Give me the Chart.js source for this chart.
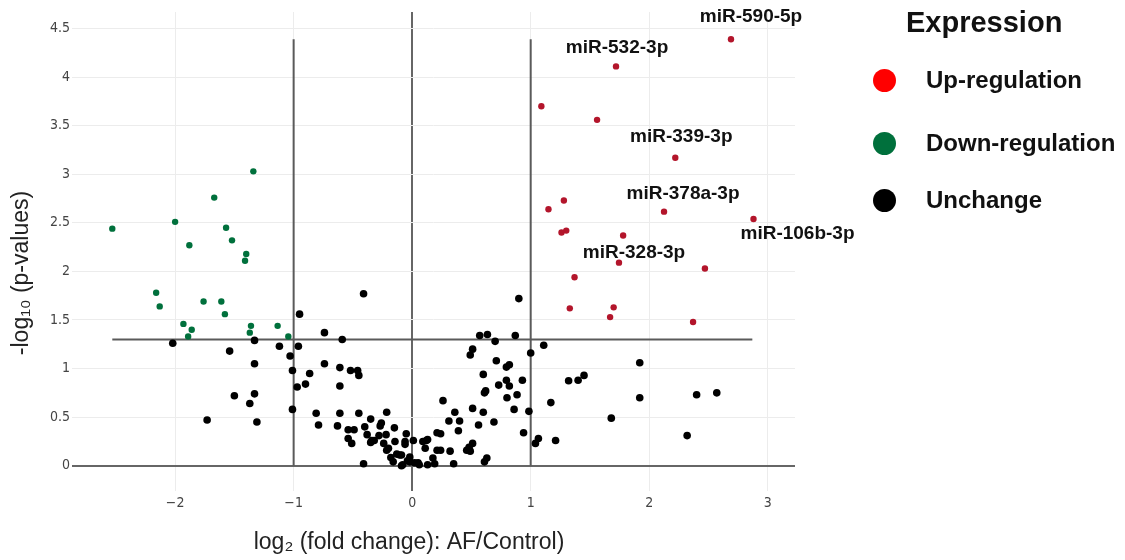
<!DOCTYPE html>
<html>
<head>
<meta charset="utf-8">
<script src="https://cdn.jsdelivr.net/npm/chart.js@4"></script>
<style>
  html, body { margin: 0; padding: 0; background: #fff; }
  #wrap { position: relative; width: 1125px; height: 560px; }
  #legend { position: absolute; left: 0; top: 0; font-family: 'Liberation Sans', Arial, sans-serif; font-weight: bold; color: #111; }
  #legend .title { position: absolute; left: 906px; top: 6px; font-size: 29px; white-space: nowrap; }
  #legend .item { position: absolute; left: 873px; height: 24px; white-space: nowrap; }
  #legend .dot { position: absolute; left: 0; top: 0; width: 23px; height: 23px; border-radius: 50%; }
  #legend .lbl { position: absolute; left: 53px; top: -2px; font-size: 24px; line-height: 26px; }
</style>
</head>
<body>
<div id="wrap">
  <canvas id="chart" width="1125" height="560"></canvas>
  <div id="legend"></div>
</div>
<script>
// up-regulated (red)
const upX = [2.69, 1.72, 1.09, 1.56, 2.22, 1.28, 1.15, 2.125, 2.88, 1.26, 1.30, 1.78, 1.745, 2.47, 1.37, 1.33, 1.70, 1.67, 2.37];
const upY = [4.39, 4.11, 3.70, 3.56, 3.17, 2.73, 2.64, 2.615, 2.54, 2.40, 2.42, 2.37, 2.09, 2.03, 1.94, 1.62, 1.63, 1.53, 1.48];

// down-regulated (green)
const downX = [-2.53, -2.00, -1.67, -1.34, -1.57, -1.52, -1.88, -1.40, -1.41, -2.16, -2.13, -1.76, -1.61, -1.58, -1.93, -1.86, -1.89, -1.36, -1.37, -1.135, -1.045];
const downY = [2.44, 2.51, 2.76, 3.03, 2.45, 2.32, 2.27, 2.18, 2.11, 1.78, 1.64, 1.69, 1.69, 1.56, 1.46, 1.40, 1.33, 1.44, 1.37, 1.44, 1.33];

// unchanged (black)
const unX = [-2.02, -1.54, -1.33, -1.33, -1.12, -1.03, -1.01, -0.96, -0.95, -1.50, -1.33, -1.37, -1.31, -1.73, -1.01, -0.97, -0.90, -0.865,
  -0.74, -0.59, -0.74, -0.61, -0.52, -0.46, -0.45, -0.61, -0.41, -0.81, -0.79, -0.61, -0.63, -0.45, -0.54, -0.49, -0.54, -0.51,
  -0.40, -0.35, -0.38, -0.35, -0.32, -0.41, -0.26, -0.27, -0.215, -0.28, -0.22, -0.24, -0.15, -0.145, -0.215, -0.20, -0.13, -0.09,
  -0.18, -0.16, -0.05, -0.06, -0.06, 0.01, -0.02, -0.04, -0.02, -0.09, 0.02, 0.05, -0.34, -0.08, -0.105,
  0.57, 0.635, 0.87, 0.70, 1.00, 0.51, 0.49, 0.71, 0.795, 0.82, 0.60, 0.795, 0.82, 0.93, 0.73, 0.62, 0.61, 0.80, 0.885, 0.26,
  0.51, 0.60, 0.86, 0.985, 0.36, 0.31, 0.40, 0.69, 0.56, 0.39, 0.21, 0.24, 0.94, 0.09, 0.13, 0.11, 0.21, 0.24, 0.32, 0.48,
  0.51, 0.46, 0.49, 0.63, 0.61, 0.35, 0.175, 0.19, 0.13, 0.06, 0.90, 1.11, 1.32, 1.40, 1.45, 1.92, 1.92, 1.17, 1.68, 1.065,
  1.04, 1.21, 2.40, 2.57, 2.32, 0.12];
const unY = [1.26, 1.18, 1.29, 1.05, 1.23, 1.13, 0.98, 1.23, 1.56, 0.72, 0.74, 0.64, 0.45, 0.47, 0.58, 0.81, 0.84, 0.95,
  1.37, 1.30, 1.05, 1.01, 0.98, 0.98, 0.93, 0.82, 1.77, 0.54, 0.42, 0.54, 0.41, 0.54, 0.37, 0.37, 0.28, 0.23,
  0.40, 0.48, 0.32, 0.24, 0.26, 0.02, 0.44, 0.41, 0.55, 0.31, 0.32, 0.23, 0.39, 0.25, 0.16, 0.18, 0.12, 0.11,
  0.085, 0.04, 0.33, 0.25, 0.22, 0.26, 0.09, 0.05, 0.04, 0.00, 0.03, 0.03, 0.26, 0.01, 0.11,
  1.34, 1.35, 1.34, 1.28, 1.16, 1.20, 1.14, 1.08, 1.015, 1.04, 0.94, 0.88, 0.82, 0.88, 0.83, 0.77, 0.75, 0.70, 0.73, 0.67,
  0.59, 0.55, 0.58, 0.56, 0.55, 0.46, 0.46, 0.45, 0.42, 0.36, 0.34, 0.33, 0.34, 0.25, 0.27, 0.18, 0.16, 0.16, 0.15, 0.19,
  0.23, 0.16, 0.15, 0.08, 0.04, 0.02, 0.08, 0.02, 0.01, 0.01, 1.72, 1.24, 0.875, 0.88, 0.93, 1.06, 0.70, 0.65, 0.49, 0.28,
  0.23, 0.26, 0.73, 0.75, 0.31, 0.26];

// cut-off lines
const fcCut = [-1, 1];
const fcLineTop = 4.39;
const pCut = 1.3;
const pLineFrom = -2.53;
const pLineTo = 2.87;

// labelled miRNAs (point coords) and text offsets in px
const labelNames = ["miR-590-5p", "miR-532-3p", "miR-339-3p", "miR-378a-3p", "miR-106b-3p", "miR-328-3p"];
const labelX = [2.69, 1.72, 2.22, 2.125, 2.88, 1.745];
const labelY = [4.39, 4.11, 3.17, 2.615, 2.54, 2.09];
const labelDx = [20, 1, 6, 19, 44, 15];
const labelDy = [-22, -19, -21, -18, 15, -10];

const xTicks = [-2, -1, 0, 1, 2, 3];
const yTicks = [0, 0.5, 1, 1.5, 2, 2.5, 3, 3.5, 4, 4.5];

const xTitle = "log\u2082 (fold change): AF/Control)";
const yTitle = "-log\u2081\u2080 (p-values)";

const legendItems = [
  { text: "Up-regulation", color: "#ff0000" },
  { text: "Down-regulation", color: "#00703c" },
  { text: "Unchange", color: "#000000" }
];

const toPts = (xs, ys) => xs.map((x, i) => ({ x: x, y: ys[i] }));
const fmtTick = (v) => String(v).replace("-", "\u2212");

const lineSets = [];
fcCut.forEach(v => lineSets.push([{ x: v, y: 0 }, { x: v, y: fcLineTop }]));
lineSets.push([{ x: pLineFrom, y: pCut }, { x: pLineTo, y: pCut }]);

const labelPlugin = {
  id: "mirLabels",
  afterDatasetsDraw(chart) {
    const c = chart.ctx;
    const xs = chart.scales.x, ys = chart.scales.y;
    c.save();
    c.font = "bold 19px 'Liberation Sans', Arial, sans-serif";
    c.fillStyle = "#111";
    c.textAlign = "center";
    c.textBaseline = "middle";
    labelNames.forEach((n, i) => {
      c.fillText(n, xs.getPixelForValue(labelX[i]) + labelDx[i], ys.getPixelForValue(labelY[i]) + labelDy[i]);
    });
    c.restore();
  }
};

// axis titles, placed like the original figure
const titlePlugin = {
  id: "axisTitles",
  afterDraw(chart) {
    const c = chart.ctx;
    c.save();
    c.font = "23px 'Liberation Sans', Arial, sans-serif";
    c.fillStyle = "#222";
    c.textAlign = "center";
    c.textBaseline = "middle";
    c.fillText(xTitle, 409, 543);
    c.translate(22, 273);
    c.rotate(-Math.PI / 2);
    c.fillText(yTitle, 0, 0);
    c.restore();
  }
};

const datasets = [
  { label: "Unchange", data: toPts(unX, unY), backgroundColor: "#000", borderWidth: 0, pointRadius: 3.8 },
  { label: "Up-regulation", data: toPts(upX, upY), backgroundColor: "#b3152b", borderWidth: 0, pointRadius: 3.2 },
  { label: "Down-regulation", data: toPts(downX, downY), backgroundColor: "#00703c", borderWidth: 0, pointRadius: 3.2 }
];
lineSets.forEach(pts => datasets.push({
  data: pts, showLine: true, borderColor: "#5a5a5a", borderWidth: 2, pointRadius: 0
}));

const gridOpts = {
  drawTicks: false,
  color: (ctx) => ctx.tick && ctx.tick.value === 0 ? "#666" : "#ececec",
  lineWidth: (ctx) => ctx.tick && ctx.tick.value === 0 ? 2 : 1
};
const tickFont = { family: "'DejaVu Sans Condensed', 'DejaVu Sans'", size: 14 };

new Chart(document.getElementById("chart"), {
  type: "scatter",
  data: { datasets: datasets },
  options: {
    responsive: false,
    animation: false,
    layout: { padding: { top: 12, right: 330, left: 0, bottom: 0 } },
    plugins: { legend: { display: false }, tooltip: { enabled: false } },
    scales: {
      x: {
        min: -2.87, max: 3.23,
        afterBuildTicks: (s) => { s.ticks = xTicks.map(v => ({ value: v })); },
        afterFit: (s) => { s.height = 69; },
        border: { display: false },
        grid: gridOpts,
        ticks: { color: "#444", padding: 4, font: tickFont, callback: fmtTick }
      },
      y: {
        min: -0.26, max: 4.67,
        afterBuildTicks: (s) => { s.ticks = yTicks.map(v => ({ value: v })); },
        afterFit: (s) => { s.width = 72; },
        border: { display: false },
        grid: gridOpts,
        ticks: { color: "#444", padding: 2, font: tickFont, callback: fmtTick }
      }
    }
  },
  plugins: [labelPlugin, titlePlugin]
});

// legend on the right
const legendEl = document.getElementById("legend");
legendEl.innerHTML = '<div class="title">Expression</div>';
const itemTops = [69, 132, 189];
legendItems.forEach((it, i) => {
  const d = document.createElement("div");
  d.className = "item";
  d.style.top = itemTops[i] + "px";
  d.innerHTML = '<span class="dot" style="background:' + it.color + '"></span><span class="lbl">' + it.text + '</span>';
  legendEl.appendChild(d);
});
</script>
</body>
</html>
